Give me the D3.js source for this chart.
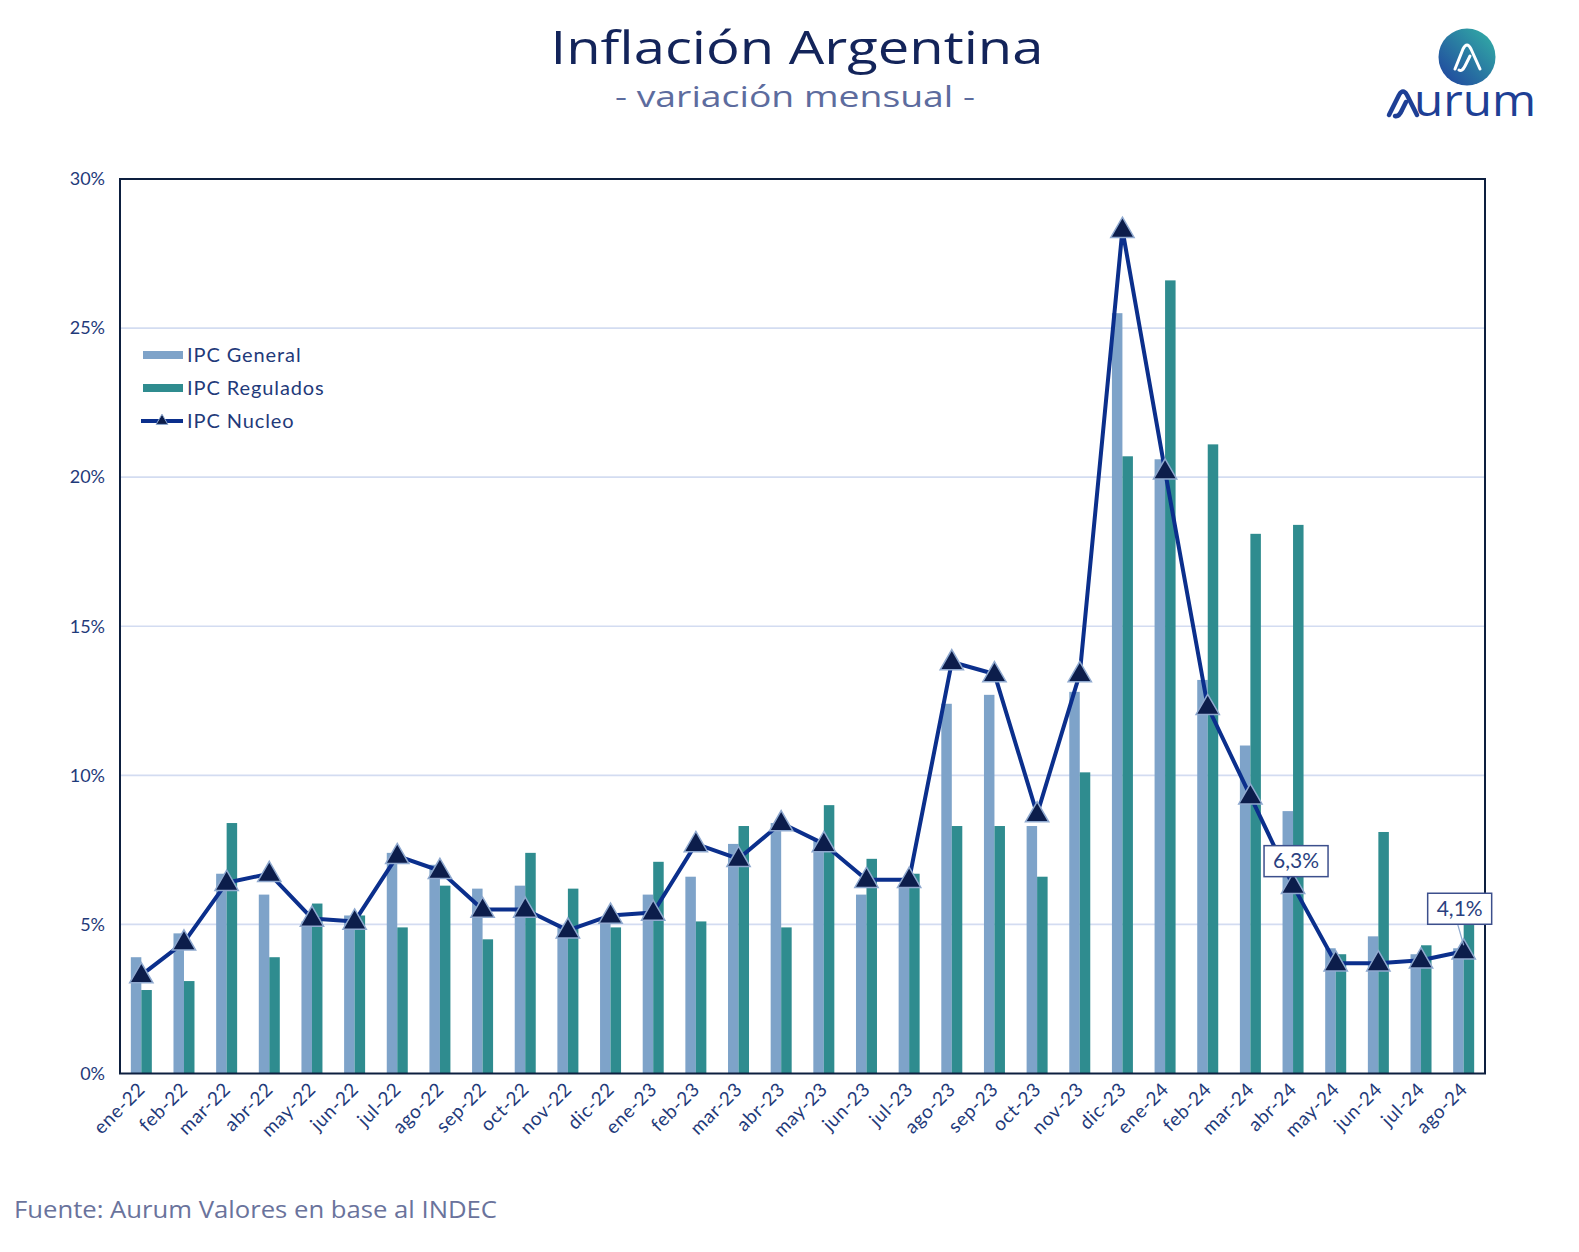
<!DOCTYPE html>
<html><head><meta charset="utf-8">
<script src="https://cdn.jsdelivr.net/npm/d3@7"></script>
<style>body{margin:0;background:#fff}svg{display:block}</style>
</head><body>
<script>
const categories = ["ene-22","feb-22","mar-22","abr-22","may-22","jun-22","jul-22","ago-22","sep-22","oct-22","nov-22","dic-22",
"ene-23","feb-23","mar-23","abr-23","may-23","jun-23","jul-23","ago-23","sep-23","oct-23","nov-23","dic-23",
"ene-24","feb-24","mar-24","abr-24","may-24","jun-24","jul-24","ago-24"];
const ipcGeneral = [3.9,4.7,6.7,6.0,5.1,5.3,7.4,7.0,6.2,6.3,4.9,5.1,6.0,6.6,7.7,8.4,7.8,6.0,6.3,12.4,12.7,8.3,12.8,25.5,20.6,13.2,11.0,8.8,4.2,4.6,4.0,4.2];
const ipcRegulados = [2.8,3.1,8.4,3.9,5.7,5.3,4.9,6.3,4.5,7.4,6.2,4.9,7.1,5.1,8.3,4.9,9.0,7.2,6.7,8.3,8.3,6.6,10.1,20.7,26.6,21.1,18.1,18.4,4.0,8.1,4.3,5.2];
const ipcNucleo = [3.3,4.4,6.4,6.7,5.2,5.1,7.3,6.8,5.5,5.5,4.8,5.3,5.4,7.7,7.2,8.4,7.7,6.5,6.5,13.8,13.4,8.7,13.4,28.3,20.2,12.3,9.3,6.3,3.7,3.7,3.8,4.1];
const yTicks = [0,5,10,15,20,25,30];
const seriesNames = ["IPC General","IPC Regulados","IPC Nucleo"];
const callouts = [{cat:"abr-24", label:"6,3%"},{cat:"ago-24", label:"4,1%"}];

const W = 1579, H = 1252;
const M = {left:120, right:1485, top:179, bottom:1073.5};
const C = {gen:"#7ea3c9", reg:"#2f8c8f", line:"#0b2f8c", tri:"#0c1d4b", triStroke:"#8fa9cf",
  axis:"#0d1f3f", grid:"#d3dcf1", text:"#1f3a7a", title:"#13245a", sub:"#5d6c9e"};
const FONT = "Lato, 'Open Sans', sans-serif";
const TFONT = "'Open Sans', Lato, sans-serif";

const svg = d3.select("body").append("svg").attr("width",W).attr("height",H);

const x = d3.scaleBand().domain(categories).range([M.left,M.right]).paddingInner(0).paddingOuter(0);
const x1 = d3.scaleBand().domain(["gen","reg"]).range([x.bandwidth()/2-10.5, x.bandwidth()/2+10.5]);
const y = d3.scaleLinear().domain([0,30]).range([M.bottom,M.top]);

// gridlines
svg.append("g").selectAll("line").data(yTicks.filter(d=>d>0&&d<30)).join("line")
  .attr("x1",M.left).attr("x2",M.right).attr("y1",d=>y(d)).attr("y2",d=>y(d))
  .attr("stroke",C.grid).attr("stroke-width",1.6);

// bars
const g = svg.append("g");
g.selectAll("rect.gen").data(categories).join("rect").attr("class","gen")
  .attr("x",d=>x(d)+x1("gen")).attr("width",x1.bandwidth())
  .attr("y",(d,i)=>y(ipcGeneral[i])).attr("height",(d,i)=>y(0)-y(ipcGeneral[i])).attr("fill",C.gen);
g.selectAll("rect.reg").data(categories).join("rect").attr("class","reg")
  .attr("x",d=>x(d)+x1("reg")).attr("width",x1.bandwidth())
  .attr("y",(d,i)=>y(ipcRegulados[i])).attr("height",(d,i)=>y(0)-y(ipcRegulados[i])).attr("fill",C.reg);

// line
const cx = d=>x(d)+x.bandwidth()/2;
const line = d3.line().x((d,i)=>cx(categories[i])).y(d=>y(d));
svg.append("path").datum(ipcNucleo).attr("d",line).attr("fill","none")
  .attr("stroke",C.line).attr("stroke-width",4).attr("stroke-linejoin","round");
const tri = d3.symbol().type(d3.symbolTriangle).size(235);
svg.append("g").selectAll("path").data(ipcNucleo).join("path")
  .attr("d",tri).attr("transform",(d,i)=>`translate(${cx(categories[i])},${y(d)+1})`)
  .attr("fill",C.tri).attr("stroke",C.triStroke).attr("stroke-width",1.5);

// frame
svg.append("rect").attr("x",M.left).attr("y",M.top).attr("width",M.right-M.left).attr("height",M.bottom-M.top)
  .attr("fill","none").attr("stroke",C.axis).attr("stroke-width",2);

// y axis labels
const yAxis = d3.axisLeft(y).tickValues(yTicks).tickFormat(d=>d+"%").tickSize(0).tickPadding(15);
const ya = svg.append("g").attr("transform",`translate(${M.left},0)`).call(yAxis);
ya.select(".domain").remove();
ya.selectAll("text").attr("font-family",FONT).attr("font-size",18).attr("fill",C.text);

// x axis labels
const xAxis = d3.axisBottom(x).tickSize(0).tickPadding(0);
const xa = svg.append("g").attr("transform",`translate(0,${M.bottom})`).call(xAxis);
xa.select(".domain").remove();
xa.selectAll("text").attr("font-family",FONT).attr("font-size",19).attr("fill",C.text)
  .attr("letter-spacing",0.6)
  .attr("text-anchor","end").attr("dy",null).attr("y",0)
  .attr("transform","translate(5,17) rotate(-45)");

// callouts
callouts.forEach((c,k)=>{
  const i = categories.indexOf(c.cat);
  const px = cx(c.cat), py = y(ipcNucleo[i]);
  const bw = 64, bh = 31;
  const bx = k===0 ? px-29 : px-36, by = k===0 ? py-40 : py-58;
  if(k===1) svg.append("line").attr("x1",bx+bw/2-2).attr("y1",by+bh).attr("x2",px).attr("y2",py-6)
     .attr("stroke",C.triStroke).attr("stroke-width",1.2);
  svg.append("rect").attr("x",bx).attr("y",by).attr("width",bw).attr("height",bh)
    .attr("fill","#fff").attr("stroke","#3c4f8c").attr("stroke-width",1.5);
  svg.append("text").attr("x",bx+bw/2).attr("y",by+bh/2+7).attr("text-anchor","middle")
    .attr("font-family",FONT).attr("font-size",21).attr("fill","#2a3f80").text(c.label);
});

// legend
const lg = svg.append("g");
[[C.gen,"bar"],[C.reg,"bar"],[C.line,"line"]].forEach((s,i)=>{
  const yy = 355 + i*33;
  if(s[1]==="bar") lg.append("rect").attr("x",143).attr("y",yy-4).attr("width",40).attr("height",8).attr("fill",s[0]);
  else {
    lg.append("line").attr("x1",141).attr("x2",183).attr("y1",yy).attr("y2",yy).attr("stroke",s[0]).attr("stroke-width",4);
    lg.append("path").attr("d",d3.symbol().type(d3.symbolTriangle).size(60)).attr("transform",`translate(162,${yy})`)
      .attr("fill",C.tri).attr("stroke",C.triStroke).attr("stroke-width",1);
  }
  lg.append("text").attr("x",187).attr("y",yy+7).attr("font-family",FONT).attr("font-size",20)
    .attr("letter-spacing",0.9).attr("fill",C.text).text(seriesNames[i]);
});

// titles
svg.append("text").attr("x",797).attr("y",64).attr("text-anchor","middle").attr("font-family",TFONT)
  .attr("font-size",46).attr("fill",C.title).attr("textLength",493).attr("lengthAdjust","spacingAndGlyphs").text("Inflación Argentina");
svg.append("text").attr("x",795).attr("y",107).attr("text-anchor","middle").attr("font-family",TFONT)
  .attr("font-size",30).attr("fill",C.sub).attr("textLength",360).attr("lengthAdjust","spacingAndGlyphs").text("- variación mensual -");

// footer
svg.append("text").attr("x",14).attr("y",1218).attr("font-family",TFONT).attr("font-size",23)
  .attr("fill","#6a739c").attr("textLength",483).attr("lengthAdjust","spacingAndGlyphs").text("Fuente: Aurum Valores en base al INDEC");

// logo
const defs = svg.append("defs");
const grad = defs.append("linearGradient").attr("id","lg1").attr("x1","100%").attr("y1","0%").attr("x2","0%").attr("y2","100%");
grad.append("stop").attr("offset","0%").attr("stop-color","#33b3a6");
grad.append("stop").attr("offset","100%").attr("stop-color","#1f3f9e");
const logo = svg.append("g");
logo.append("circle").attr("cx",1467).attr("cy",57).attr("r",28.5).attr("fill","url(#lg1)");
logo.append("path").attr("d","M1455,69 L1463,49 Q1467,41 1471,49 L1480,69 M1459,70 Q1462,72 1465,66 L1470,56")
  .attr("fill","none").attr("stroke","#fff").attr("stroke-width",3).attr("stroke-linecap","round").attr("stroke-linejoin","round");
logo.append("path").attr("d","M1389,115 L1399,95 Q1403,88 1407,95 L1417,115 M1395,116 Q1399,117 1402,110 L1406,102")
  .attr("fill","none").attr("stroke","#1e3f95").attr("stroke-width",4.5).attr("stroke-linecap","round").attr("stroke-linejoin","round");
logo.append("text").attr("x",1414).attr("y",116).attr("font-family",TFONT).attr("font-size",44).attr("font-weight",500)
  .attr("fill","#1e3f95").attr("textLength",122).attr("lengthAdjust","spacingAndGlyphs").text("urum");
</script>
</body></html>
